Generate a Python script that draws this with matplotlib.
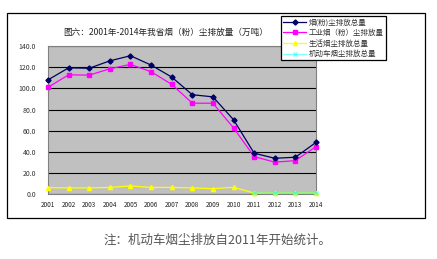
import matplotlib
matplotlib.use("Agg")
import matplotlib.pyplot as plt
from matplotlib.patches import Rectangle

plt.rcParams['font.family'] = ['Noto Sans CJK SC', 'DejaVu Sans']

years = [2001, 2002, 2003, 2004, 2005, 2006, 2007, 2008, 2009, 2010, 2011, 2012, 2013, 2014]
year_labels = [str(y) for y in years]
total = [108, 119.4, 119, 126, 130.8, 122, 110.7, 94, 92, 70.4, 38.8, 34, 35, 49]
industrial = [101, 112.8, 112.5, 118.5, 122.6, 115.7, 103.8, 86, 86, 62.7, 35.6, 30.3, 31.8, 45]
living = [6.3, 6, 6, 6.5, 7.9, 6.5, 6.5, 6, 5.3, 6.6, 1.2, 1.3, 1.3, 1.3]
vehicle_years = [2011, 2012, 2013, 2014]
vehicle = [1.2, 1.3, 1.3, 1.3]
yticks = [0, 20, 40, 60, 80, 100, 120, 140]

title = "图六：2001年-2014年我省烟（粉）尘排放量（万吨）"
names = ["烟(粉)尘排放总量", "工业烟（粉）尘排放量", "生活烟尘排放总量", "机动车烟尘排放总量"]
note = "注：机动车烟尘排放自2011年开始统计。"

W, H = 437, 259
fig = plt.figure(figsize=(W / 100, H / 100), dpi=100)
fig.patch.set_facecolor('white')

# outer chart frame
fig.add_artist(Rectangle((7 / W, 1 - 218 / H), (425 - 7) / W, (218 - 13) / H,
                         transform=fig.transFigure, fill=False, edgecolor='black', lw=0.9))

ax = fig.add_axes([48 / W, 1 - 194.3 / H, (316 - 48) / W, (194.3 - 46) / H])
ax.set_facecolor('#c0c0c0')
ax.set_xlim(2001, 2014)
ax.set_ylim(0, 140)
ax.set_yticks(yticks)
ax.set_yticklabels([f"{v:.1f}" for v in yticks], fontsize=5, color='#333333')
ax.set_xticks(years)
ax.set_xticklabels(year_labels, fontsize=4.6, color='#222222')
ax.tick_params(axis='y', length=0, pad=8.5)
ax.tick_params(axis='x', length=0, pad=5)
ax.grid(axis='y', color='black', lw=0.8)
ax.set_axisbelow(True)
for s in ax.spines.values():
    s.set_color('#808080')
    s.set_linewidth(0.8)

l1, = ax.plot(years, total, color='#000066', lw=0.9, marker='D', ms=2.6, label=names[0], clip_on=False, zorder=5)
l2, = ax.plot(years, industrial, color='#ff00ff', lw=0.9, marker='s', ms=3.2, label=names[1], clip_on=False, zorder=4)
l3, = ax.plot(years, living, color='#ffff00', lw=0.9, marker='^', ms=3, label=names[2], clip_on=False, zorder=3)
l4, = ax.plot(vehicle_years, vehicle, color='#00ffff', lw=0.9, marker='x', ms=2.6, alpha=0.5,
              label=names[3], clip_on=False, zorder=3.5)

fig.text(63 / W, 1 - 32 / H, title, fontsize=6.2, color='#222222', va='center', ha='left')

leg = fig.legend(handles=[l1, l2, l3, l4], loc='upper left',
                 bbox_to_anchor=(281 / W, 1 - 16 / H), fontsize=5.4, frameon=True,
                 fancybox=False, edgecolor='black', framealpha=1, borderpad=0.3,
                 labelspacing=0.35, handlelength=3.0, handletextpad=0.4, borderaxespad=0)
leg.get_frame().set_linewidth(0.9)
for t in leg.get_texts():
    t.set_color('#333333')

fig.text(218 / W, 1 - 240 / H, note, fontsize=9, color='#555555', ha='center', va='center')

fig.savefig('out.png', dpi=100)
